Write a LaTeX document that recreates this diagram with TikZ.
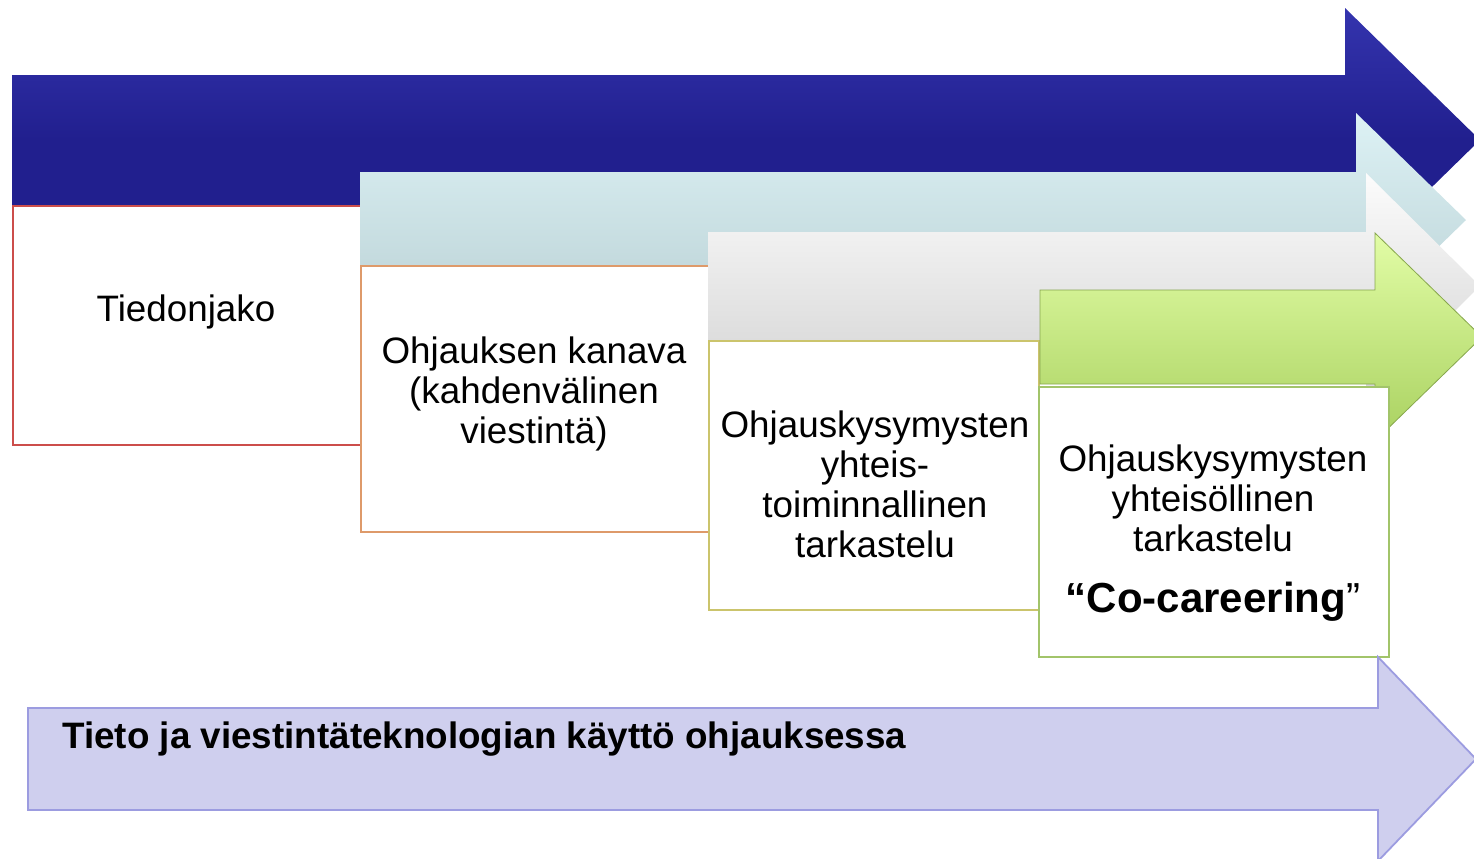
\documentclass[tikz,border=0pt]{standalone}
\usepackage{fontspec}
\setmainfont{Liberation Sans}
\usetikzlibrary{calc,positioning}

\definecolor{navyarrow}{HTML}{211F8E}
\definecolor{navylight}{HTML}{3434AE}
\definecolor{iceup}{HTML}{DDF2F5}
\definecolor{icedown}{HTML}{B9D0D4}
\definecolor{greyup}{HTML}{FCFCFC}
\definecolor{greydown}{HTML}{D2D2D2}
\definecolor{limeup}{HTML}{E2FDA6}
\definecolor{limedown}{HTML}{A9D160}
\definecolor{lavfill}{HTML}{CFCFEE}
\definecolor{lavline}{HTML}{9C9CE0}
\definecolor{redline}{HTML}{CC4E4B}
\definecolor{orangeline}{HTML}{DE9A6A}
\definecolor{oliveline}{HTML}{CBC46C}
\definecolor{greenline}{HTML}{A2C46A}

\begin{document}
\begin{tikzpicture}[x=0.5pt, y=-0.5pt,
  stagebox/.style={rectangle, draw=#1, line width=0.9pt, fill=white, inner sep=0pt, anchor=north west},
  stagetext/.style={align=center, anchor=base, inner sep=0pt, font=\fontsize{18.4}{20}\selectfont}]
  \useasboundingbox (0,0) rectangle (1474,858);
  \clip (0,0) rectangle (1474,858);

  % first stage
  \path[top color=navylight, bottom color=navyarrow, middle color=navyarrow]
    (12,75) -- (1345,75) -- (1345,8) -- (1480,140) -- (1345,272) -- (1345,205) -- (12,205) -- cycle;
  \node [stagebox=redline, minimum width=174pt, minimum height=119.5pt] (box1) at (12,205) {};
  \node [stagetext] (txt1) at (186,321) {Tiedonjako};

  % second stage
  \path[top color=iceup, bottom color=icedown]
    (360,172) -- (1356,172) -- (1356,113) -- (1466,220) -- (1356,327) -- (1356,265) -- (360,265) -- cycle;
  \node [stagebox=orangeline, minimum width=174pt, minimum height=133pt] (box2) at (360,265) {};
  \node [stagetext] (txt2) at (534,443) {Ohjauksen kanava\\(kahdenvälinen\\viestintä)};

  % third stage
  \path[top color=greyup, bottom color=greydown]
    (708,232) -- (1366,232) -- (1366,173) -- (1480,286) -- (1366,399) -- (1366,340) -- (708,340) -- cycle;
  \node [stagebox=oliveline, minimum width=165pt, minimum height=134.5pt] (box3) at (708,340) {};
  \node [stagetext] (txt3) at (875,557) {Ohjauskysymysten\\yhteis-\\toiminnallinen\\tarkastelu};

  % fourth stage
  \path[top color=limeup, bottom color=limedown, draw=limedown!80!black, line width=0.4pt]
    (1040,290) -- (1375,290) -- (1375,233) -- (1482,337) -- (1375,441) -- (1375,384) -- (1040,384) -- cycle;
  \node [stagebox=greenline, minimum width=175pt, minimum height=135pt] (box4) at (1038,386) {};
  \node [stagetext] (txt4) at (1213,551) {Ohjauskysymysten\\yhteisöllinen\\tarkastelu};
  \node [stagetext, font=\fontsize{21}{24}\selectfont] (cocar) at (1213,612) {\textbf{“Co-careering}”};

  % ICT arrow
  \path[fill=lavfill, draw=lavline, line width=0.9pt]
    (28,708) -- (1378,708) -- (1378,657) -- (1476,759) -- (1378,861) -- (1378,810) -- (28,810) -- cycle;
  \node [anchor=base west, inner sep=0pt, font=\fontsize{18.4}{20}\selectfont\bfseries] (ict) at (62,748)
    {Tieto ja viestintäteknologian käyttö ohjauksessa};
\end{tikzpicture}
\end{document}
